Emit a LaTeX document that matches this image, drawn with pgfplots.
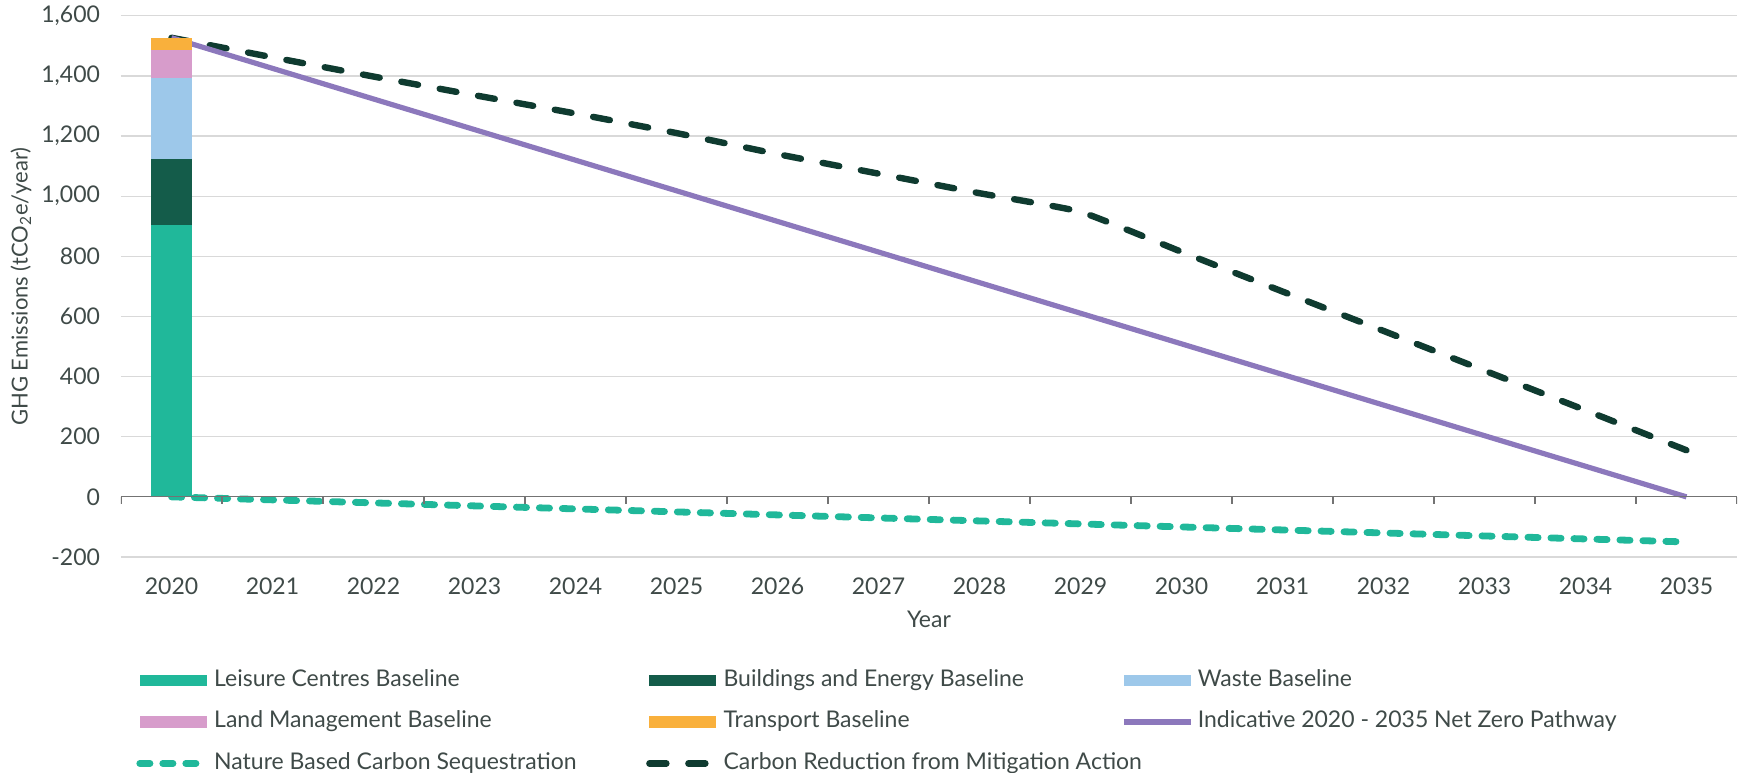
\documentclass[border=0pt]{standalone}
\usepackage{fontspec}
\setmainfont{Lato}
\usepackage{pgfplots}
\pgfplotsset{compat=1.18}
\definecolor{leisure}{HTML}{20B89A}
\definecolor{buildings}{HTML}{145C4A}
\definecolor{waste}{HTML}{9DC8EA}
\definecolor{land}{HTML}{D79CCB}
\definecolor{transport}{HTML}{F9B03C}
\definecolor{pathway}{HTML}{8C78BC}
\definecolor{mitig}{HTML}{0F3B30}
\definecolor{txt}{HTML}{3F4A48}
\definecolor{gridc}{HTML}{D9D9D9}
\newcommand{\chartfont}{\fontsize{11.5}{13}\selectfont}
\pgfplotsset{
  barleg/.style={legend image code/.code={\fill[##1] (0pt,-2.8pt) rectangle (33.5pt,2.8pt);}},
  lineleg/.style={legend image code/.code={\draw[##1] (0pt,0pt) -- (33.5pt,0pt);}},
}
\begin{document}
\begin{tikzpicture}
\useasboundingbox (-60.5pt,-107.5pt) rectangle (810.5pt,278.5pt);
\begin{axis}[
  scale only axis, width=808pt, height=270.6pt,
  ybar stacked, bar width=0.4,
  xmin=-0.5, xmax=15.5, ymin=-200, ymax=1600,
  xtick={0,...,15},
  xticklabels={2020,2021,2022,2023,2024,2025,2026,2027,2028,2029,2030,2031,2032,2033,2034,2035},
  ytick={-200,0,...,1600},
  major tick length=0pt,
  axis line style={draw=none},
  ymajorgrids, grid style={gridc, line width=0.6pt},
  tick label style={font=\chartfont, text=txt, /pgf/number format/assume math mode=true},
  xticklabel style={yshift=-7pt},
  yticklabel style={xshift=-7pt},
  xlabel={Year}, ylabel={GHG Emissions (tCO\textsubscript{2}e/year)},
  label style={font=\chartfont, text=txt},
  xlabel style={at={(axis description cs:0.5,0)}, anchor=center, yshift=-31pt},
  ylabel style={at={(axis description cs:-0.0619,0.5)}, anchor=center,
    font=\fontsize{11}{13}\selectfont},
  legend columns=3, legend cell align=left,
  legend style={at={(axis description cs:0,0)}, anchor=north west,
    xshift=7.5pt, yshift=-56pt, draw=none, fill=none, inner sep=0pt,
    font=\chartfont, text=txt, row sep=9.75pt,
    nodes={inner sep=0pt, text height=8.5pt, text depth=2.5pt},
    /tikz/every odd column/.style={column sep=2pt}},
]
\draw[black!55, line width=0.6pt] (axis cs:-0.5,0) -- (axis cs:15.5,0);
\pgfplotsinvokeforeach{-0.5,0.5,...,15.5}{
  \draw[black!55, line width=0.6pt] (axis cs:#1,0) -- (axis cs:#1,-23);
}

\addplot[fill=leisure, draw=none, barleg] coordinates {(0,905)};
\addlegendentry{\makebox[216pt][l]{Leisure Centres Baseline}}

\addplot[fill=buildings, draw=none, barleg] coordinates {(0,219)};
\addlegendentry{\makebox[199pt][l]{Buildings and Energy Baseline}}

\addplot[fill=waste, draw=none, barleg] coordinates {(0,268)};
\addlegendentry{Waste Baseline}

\addplot[fill=land, draw=none, barleg] coordinates {(0,94)};
\addlegendentry{\makebox[216pt][l]{Land Management Baseline}}

\addplot[fill=transport, draw=none, barleg] coordinates {(0,41)};
\addlegendentry{\makebox[199pt][l]{Transport Baseline}}

\addplot[sharp plot, stack plots=false, pathway, line width=2.6pt, lineleg] coordinates {
  (0,1527) (1,1425.2) (2,1323.4) (3,1221.6) (4,1119.8)
  (5,1018) (6,916.2) (7,814.4) (8,712.6) (9,610.8)
  (10,509) (11,407.2) (12,305.4) (13,203.6) (14,101.8) (15,0)
};
\addlegendentry{Indicative 2020 - 2035 Net Zero Pathway}

\addplot[sharp plot, stack plots=false, leisure, line width=3.4pt, line cap=round,
  dash pattern=on 5.1pt off 6.4pt, lineleg] coordinates {
  (0,0) (1,-10) (2,-20) (3,-30) (4,-40) (5,-50)
  (6,-60) (7,-70) (8,-80) (9,-90) (10,-100) (11,-110)
  (12,-120) (13,-130) (14,-140) (15,-150)
};
\addlegendentry{\makebox[216pt][l]{Nature Based Carbon Sequestration}}

\addplot[smooth, tension=0.25, stack plots=false, mitig, line width=3.2pt, line cap=round,
  dash pattern=on 8.5pt off 11pt, lineleg] coordinates {
  (0,1527) (1,1462) (2,1398) (3,1336) (4,1275) (5,1210)
  (6,1140) (7,1075) (8,1010) (9,948) (10,815) (11,683)
  (12,552) (13,420) (14,288) (15,155)
};
\addlegendentry{\makebox[199pt][l]{Carbon Reduction from Mitigation Action}}
\end{axis}
\end{tikzpicture}
\end{document}
